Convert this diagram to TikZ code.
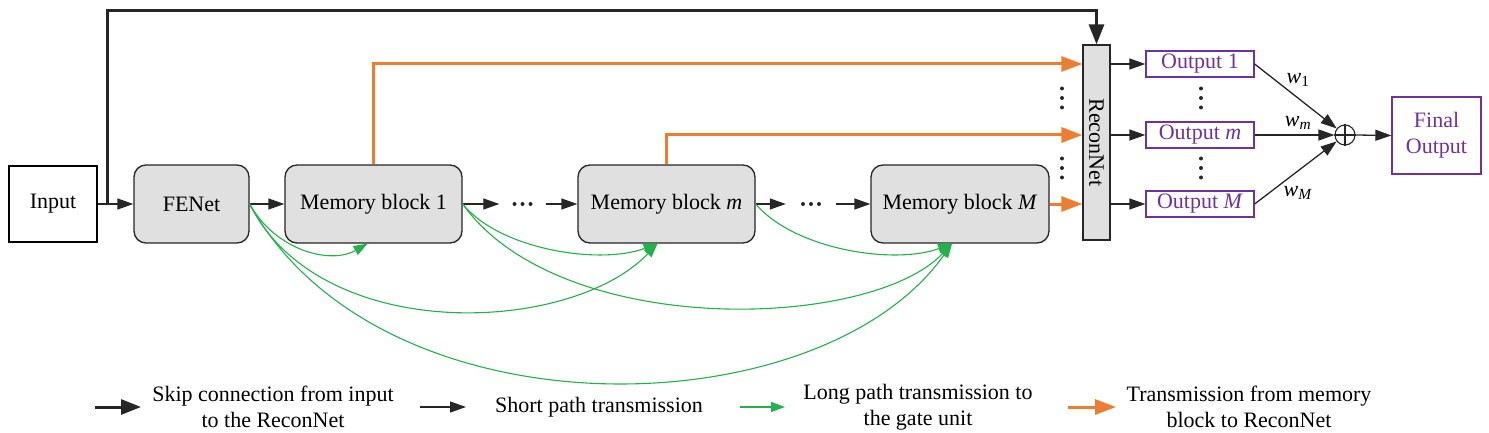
\documentclass[tikz,border=0pt]{standalone}
\usepackage{fontspec}
\setmainfont{Liberation Serif}
\usetikzlibrary{arrows.meta,calc}
\definecolor{blockgray}{HTML}{E0E0E0}
\definecolor{orng}{HTML}{ED7D31}
\definecolor{grn}{HTML}{22B14C}
\definecolor{purp}{HTML}{7030A0}
\tikzset{
  plainbox/.style={draw=black,line width=1.3pt,inner sep=0pt},
  block/.style={draw=black!85,line width=1.3pt,fill=blockgray,rounded corners=12pt,minimum height=78pt,inner sep=0pt},
  outbox/.style={draw=purp,line width=1.3pt,text=purp,minimum width=108pt,minimum height=26pt,inner sep=0pt},
  thinarr/.style={draw=black!85,line width=1.3pt,-{Triangle[length=16pt,width=11pt]}},
  skiparr/.style={draw=black!85,line width=3pt,-{Triangle[length=20pt,width=15pt]}},
  orarr/.style={draw=orng,line width=3pt,-{Triangle[length=21pt,width=15pt]}},
  grarr/.style={draw=grn,line width=1.1pt,-{Triangle[length=14pt,width=10pt]}},
  dotsnode/.style={inner sep=0pt,minimum width=46pt,minimum height=10pt},
  dotmark/.style={fill=black!85,circle,inner sep=0pt,minimum size=4pt},
}
\newcommand{\hdots}[1]{%
  \node[dotmark] at ($(#1)+(-8,0)$) {};
  \node[dotmark] at (#1) {};
  \node[dotmark] at ($(#1)+(8,0)$) {};}
\newcommand{\vdotsmark}[1]{%
  \node[dotmark] at ($(#1)+(0,-9.5)$) {};
  \node[dotmark] at (#1) {};
  \node[dotmark] at ($(#1)+(0,9.5)$) {};}
\begin{document}
\begin{tikzpicture}[x=1pt,y=-1pt,font=\fontsize{22}{26}\selectfont]
\useasboundingbox (0,0) rectangle (1489,433);
% nodes
\node[plainbox,minimum width=88pt,minimum height=76pt] (in) at (53,204) {Input};
\node[block,minimum width=115pt] (fe) at (191.5,204) {FENet};
\node[block,minimum width=177pt] (mb1) at (373.5,204) {Memory block 1};
\node[dotsnode] (d1) at (522.5,204) {};
\node[block,minimum width=177pt] (mbm) at (666.5,204) {Memory block \textit{m}};
\node[dotsnode,minimum width=50pt] (d2) at (811,204) {};
\node[block,minimum width=178pt] (mbM) at (960,204) {Memory block \textit{M}};
\hdots{d1}
\hdots{d2}
\node[draw=black!85,line width=1.3pt,fill=blockgray,minimum width=27pt,minimum height=195pt,inner sep=0pt] (rec) at (1096.5,142.5) {};
\node[rotate=-90] (rectext) at (rec.center) {ReconNet};
\node[outbox] (o1) at (1200,64) {Output 1};
\node[outbox] (om) at (1200,135) {Output \textit{m}};
\node[outbox] (oM) at (1200,204) {Output \textit{M}};
\node[draw=black!85,line width=1.1pt,circle,minimum size=20pt,inner sep=0pt] (plus) at (1345,135) {};
\draw[black!85,line width=1.1pt] (plus.north) -- (plus.south) (plus.west) -- (plus.east);
\node[draw=purp,line width=1.3pt,text=purp,minimum width=89pt,minimum height=77pt,align=center,inner sep=0pt] (fin) at (1436.5,135.5) {Final\\Output};
% vertical dots
\coordinate (vd1) at (1062,98);
\coordinate (vd2) at (1062,168);
\coordinate (vd3) at (1201,98);
\coordinate (vd4) at (1201,168);
\vdotsmark{vd1}
\vdotsmark{vd2}
\vdotsmark{vd3}
\vdotsmark{vd4}
% weight labels
\node (w1) at (1298,80) {\textit{w}\textsubscript{1}};
\node (wm) at (1298,123) {\textit{w}\textsubscript{\textit{m}}};
\node (wM) at (1298,193) {\textit{w}\textsubscript{\textit{M}}};
% skip connection
\coordinate (sk) at (107,204);
\draw[thinarr] (in.east) -- (fe.west);
\draw[skiparr] (sk) -- (107,11) -| (rec.north);
% short path
\draw[thinarr] (fe.east) -- (mb1.west);
\draw[thinarr] (mb1.east) -- (d1.west);
\draw[thinarr] (d1.east) -- (mbm.west);
\draw[thinarr] (mbm.east) -- (d2.west);
\draw[thinarr] (d2.east) -- (mbM.west);
% orange
\draw[orarr] (mb1.north) |- (rec.west |- o1);
\draw[orarr] (mbm.north) |- (rec.west |- om);
\draw[orarr] (mbM.east) -- (rec.west |- mbM);
% recon to outputs
\draw[thinarr] (rec.east |- o1) -- (o1.west);
\draw[thinarr] (rec.east |- om) -- (om.west);
\draw[thinarr] (rec.east |- oM) -- (oM.west);
\draw[thinarr] (o1.east) -- (plus);
\draw[thinarr] (om.east) -- (plus.west);
\draw[thinarr] (oM.east) -- (plus);
\draw[thinarr] (plus.east) -- (fin.west);
% green long paths
\coordinate (t1) at ($(mb1.south)+(-6,0)$);
\coordinate (tm) at ($(mbm.south)+(-9,0)$);
\coordinate (tM) at ($(mbM.south)+(-8,0)$);
\draw[grarr] (fe.east) .. controls (275,250) and (330,265) .. (t1);
\draw[grarr] (fe.east) .. controls (320,345) and (570,335) .. (tm);
\draw[grarr] (fe.east) .. controls (380,440) and (820,430) .. (tM);
\draw[grarr] (mb1.east) .. controls (500,250) and (600,265) .. (tm);
\draw[grarr] (mb1.east) .. controls (560,340) and (870,330) .. (tM);
\draw[grarr] (mbm.east) .. controls (795,250) and (895,265) .. (tM);
% legend
\coordinate (la1) at (95,407); \coordinate (lb1) at (141,407);
\coordinate (la2) at (420,407); \coordinate (lb2) at (466,407);
\coordinate (la3) at (740,407); \coordinate (lb3) at (785,407);
\coordinate (la4) at (1068,407); \coordinate (lb4) at (1116,407);
\draw[skiparr] (la1) -- (lb1);
\draw[thinarr] (la2) -- (lb2);
\draw[grarr] (la3) -- (lb3);
\draw[orarr] (la4) -- (lb4);
\node[align=center] (lt1) at (273,407) {Skip connection from input\\to the ReconNet};
\node (lt2) at (599,407) {Short path transmission};
\node[align=center] (lt3) at (918,407) {Long path transmission to\\the gate unit};
\node[align=center] (lt4) at (1249,407) {Transmission from memory\\block to ReconNet};
\end{tikzpicture}
\end{document}
